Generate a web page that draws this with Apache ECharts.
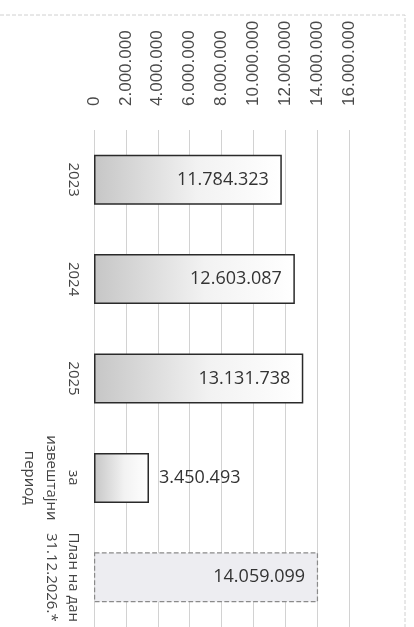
<!DOCTYPE html>
<html>
<head>
<meta charset="utf-8">
<script src="https://cdn.jsdelivr.net/npm/echarts@6/dist/echarts.min.js"></script>
<style>
html,body{margin:0;padding:0;background:#fff;}
#c{width:414px;height:627px;}
</style>
</head>
<body>
<div id="c"></div>
<script>
const categories = ['2023', '2024', '2025', 'за\nизвештајни\nпериод', 'План на дан\n31.12.2026.*'];
const values = [11784323, 12603087, 13131738, 3450493, 14059099];
const axisMin = 0;
const axisMax = 16000000;
const axisStep = 2000000;

function fmt(v) {
  return String(Math.round(v)).replace(/\B(?=(\d{3})+(?!\d))/g, '.');
}

const chart = echarts.init(document.getElementById('c'), null, {renderer: 'canvas'});

const gradient = new echarts.graphic.LinearGradient(0, 0, 1, 0, [
  {offset: 0, color: '#c6c6c6'},
  {offset: 0.55, color: '#f2f2f2'},
  {offset: 1, color: '#ffffff'}
]);

const seriesData = values.map((v, i) => {
  const isPlan = i === values.length - 1;
  const small = v < axisMax * 0.3;
  return {
    value: v,
    itemStyle: isPlan ? {
      color: '#ededf1',
      borderColor: '#8a8a8a',
      borderWidth: 1.2,
      borderType: 'dashed'
    } : undefined,
    label: {
      position: small ? 'right' : 'insideRight',
      distance: small ? 10 : 13
    }
  };
});

chart.setOption({
  backgroundColor: '#ffffff',
  animation: false,
  grid: {left: 94, width: 255, top: 130, height: 505},
  xAxis: {
    type: 'value',
    position: 'top',
    min: axisMin,
    max: axisMax,
    interval: axisStep,
    axisLine: {show: false},
    axisTick: {show: false},
    splitLine: {show: true, lineStyle: {color: '#d2d2d2', width: 1}},
    axisLabel: {
      rotate: -90,
      margin: 24,
      color: '#4a4a4a',
      fontFamily: 'Liberation Sans',
      fontSize: 17,
      formatter: fmt
    }
  },
  yAxis: {
    type: 'category',
    inverse: true,
    data: categories,
    axisLine: {show: false},
    axisTick: {show: false},
    axisLabel: {
      interval: 0,
      hideOverlap: false,
      rotate: -90,
      margin: 10,
      color: '#444',
      fontFamily: 'Open Sans',
      fontSize: 15,
      lineHeight: 22,
      align: 'center'
    }
  },
  series: [{
    type: 'bar',
    data: seriesData,
    barWidth: 50,
    itemStyle: {
      color: gradient,
      borderColor: '#2a2a2a',
      borderWidth: 1.5
    },
    label: {
      show: true,
      color: '#333',
      fontFamily: 'Open Sans',
      fontSize: 18,
      formatter: p => fmt(p.value)
    }
  }],
  graphic: [{
    type: 'polyline',
    shape: {points: [[0, 15], [405, 15], [405, 627]]},
    style: {stroke: '#d0d0d0', lineWidth: 1, fill: null, lineDash: [4, 2]},
    silent: true
  }]
});
</script>
</body>
</html>
